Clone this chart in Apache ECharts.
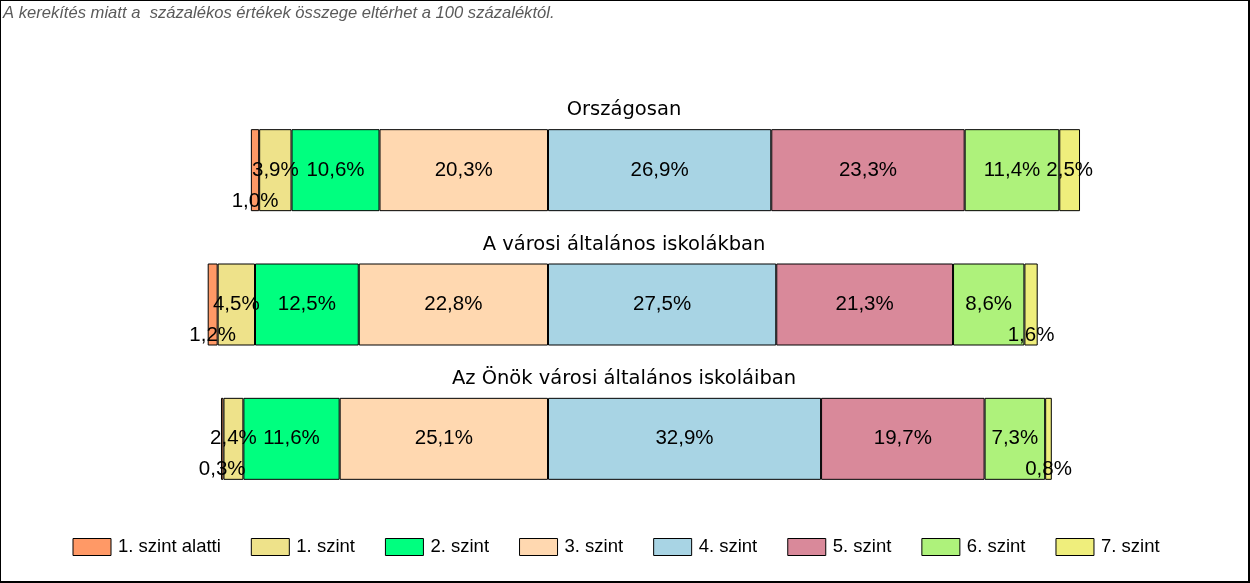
<!DOCTYPE html>
<html>
<head>
<meta charset="utf-8">
<script src="https://cdn.jsdelivr.net/npm/echarts@6/dist/echarts.min.js"></script>
<style>
  html, body { margin: 0; padding: 0; background: #fff; }
  #chart { position: absolute; left: 0; top: 0; width: 1250px; height: 583px; }
  #frame { position: absolute; left: 0; top: 0; width: 1250px; height: 583px; box-sizing: border-box;
           border-top: 1px solid #000; border-left: 1px solid #000; border-right: 2px solid #000; border-bottom: 2px solid #000;
           pointer-events: none; }
</style>
</head>
<body>
<div id="chart"></div>
<div id="frame"></div>
<script>
// ---- data ----
const categories = ['Országosan', 'A városi általános iskolákban', 'Az Önök városi általános iskoláiban'];
const levelNames = ['1. szint alatti', '1. szint', '2. szint', '3. szint', '4. szint', '5. szint', '6. szint', '7. szint'];
const below1 = [1.0, 1.2, 0.3];
const level1 = [3.9, 4.5, 2.4];
const level2 = [10.6, 12.5, 11.6];
const level3 = [20.3, 22.8, 25.1];
const level4 = [26.9, 27.5, 32.9];
const level5 = [23.3, 21.3, 19.7];
const level6 = [11.4, 8.6, 7.3];
const level7 = [2.5, 1.6, 0.8];
const note = 'A kerekítés miatt a  százalékos értékek összege eltérhet a 100 százaléktól.';

// ---- styling ----
const colors = ['#FF9966', '#EEE28A', '#00FF7F', '#FFD8B0', '#A8D4E4', '#D9899A', '#AEF27B', '#EFEE7C'];
const levelValues = [below1, level1, level2, level3, level4, level5, level6, level7];
// levels below 4 go to the left of the common zero, from 4 upward to the right
const negative = [true, true, true, true, false, false, false, false];
// stacking order: nearest to zero first
const stackOrder = [3, 2, 1, 0, 4, 5, 6, 7];

function fmt(v) { return Math.abs(v).toFixed(1).replace('.', ',') + '%'; }

const series = stackOrder.map(function (li) {
  return {
    name: levelNames[li],
    type: 'bar',
    stack: 'total',
    barWidth: 82,
    itemStyle: { color: colors[li], borderColor: '#000', borderWidth: 1 },
    label: {
      show: true, position: 'inside', color: '#000',
      fontFamily: 'Liberation Sans, Arial, sans-serif', fontSize: 20.5,
      formatter: function (p) { return fmt(p.value); }
    },
    data: levelValues[li].map(function (v) {
      const val = negative[li] ? -v : v;
      if (v < 2) return { value: val, label: { offset: [0, 31] } };
      return val;
    })
  };
});

const chart = echarts.init(document.getElementById('chart'), null, { renderer: 'canvas' });
chart.setOption({
  animation: false,
  backgroundColor: '#fff',
  title: {
    text: note, left: -2, top: 0,
    textStyle: { fontFamily: 'Liberation Sans, Arial, sans-serif', fontSize: 16.6, fontStyle: 'italic', fontWeight: 'normal', color: '#5a5a5a' }
  },
  legend: {
    data: levelNames, left: 67.5, top: 532.5, itemWidth: 38, itemHeight: 17, itemGap: 30, icon: 'rect',
    itemStyle: { borderColor: '#000', borderWidth: 1 },
    textStyle: { fontFamily: 'Liberation Sans, Arial, sans-serif', fontSize: 18.5, color: '#000', padding: [0, 0, 0, 2] }
  },
  grid: { left: 133, right: 121, top: 103, bottom: 77, containLabel: false },
  xAxis: { type: 'value', min: -50, max: 70, show: false },
  yAxis: { type: 'category', data: categories, inverse: true, show: false },
  series: series
});

const graphics = categories.map(function (c) {
  const y = chart.convertToPixel({ yAxisIndex: 0 }, c);
  return {
    type: 'text', x: 624, y: y - 60,
    style: { text: c, fill: '#000', font: '19.5px "DejaVu Sans", sans-serif', textAlign: 'center', textVerticalAlign: 'middle' }
  };
});
chart.setOption({ graphic: graphics });
</script>
</body>
</html>
